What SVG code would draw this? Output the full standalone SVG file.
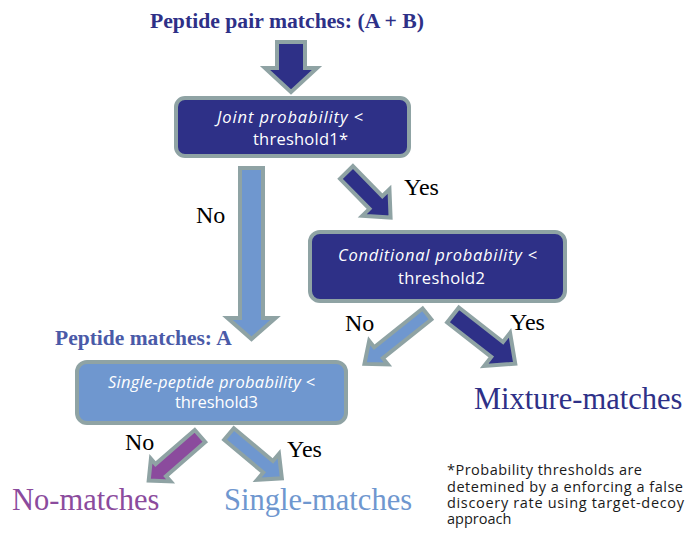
<svg xmlns="http://www.w3.org/2000/svg" width="687" height="533" viewBox="0 0 687 533">
  <style>
    .box { stroke: #8fa3a4; stroke-width: 4; }
    .dark { fill: #2e3087; }
    .light { fill: #6f97cf; }
    .purple { fill: #8b4b9d; }
    .arrow { stroke: #8fa3a4; stroke-width: 4; stroke-linejoin: miter; stroke-miterlimit: 10; }
    .boxtxt { font-family: "Open Sans", "DejaVu Sans", sans-serif; fill: #ffffff; font-size: 16.5px; }
    .it { font-style: italic; }
    .head { font-family: "Liberation Serif", "Times New Roman", serif; font-weight: bold; }
    .lbl { font-family: "Liberation Serif", "Times New Roman", serif; font-size: 24px; fill: #000000; }
    .out { font-family: "Liberation Serif", "Times New Roman", serif; font-size: 30.5px; }
    .note { font-family: "Open Sans", "DejaVu Sans", sans-serif; font-size: 14.5px; fill: #1a1a1a; }
  </style>

  <rect width="687" height="533" fill="#ffffff"/>

  <!-- headings -->
  <text class="head" x="150" y="28" font-size="21.7" fill="#2e3087">Peptide pair matches: (A + B)</text>
  <text class="head" x="55" y="345" font-size="21.5" fill="#4a5aa8">Peptide matches: A</text>

  <!-- connectors: block arrows drawn along +x, then placed and rotated -->
  <g id="connectors">
    <path class="arrow dark" transform="translate(291,42) rotate(90)" d="M0,-14 L26,-14 L26,-26 L50,0 L26,26 L26,14 L0,14 Z"/>
    <path class="arrow light" transform="translate(251.5,168) rotate(90)" d="M0,-11.5 L150,-11.5 L150,-24 L171,0 L150,24 L150,11.5 L0,11.5 Z"/>
    <path class="arrow dark" transform="translate(346.5,172.5) rotate(45.6)" d="M0,-9 L42,-9 L42,-19 L63,0 L42,19 L42,9 L0,9 Z"/>
    <path class="arrow light" transform="translate(427,314) rotate(141.4)" d="M0,-7 L62,-7 L62,-15 L80,0 L62,15 L62,7 L0,7 Z"/>
    <path class="arrow dark" transform="translate(453,315) rotate(38)" d="M0,-9.5 L56,-9.5 L56,-21 L79,0 L56,21 L56,9.5 L0,9.5 Z"/>
    <path class="arrow purple" transform="translate(200,436) rotate(139)" d="M0,-8 L52,-8 L52,-15 L68,0 L52,15 L52,8 L0,8 Z"/>
    <path class="arrow light" transform="translate(229,434) rotate(40)" d="M0,-7.5 L51,-7.5 L51,-17 L69,0 L51,17 L51,7.5 L0,7.5 Z"/>
  </g>

  <!-- decision nodes -->
  <g id="joint">
    <rect class="box dark" x="176" y="98" width="233" height="58" rx="9"/>
    <text class="boxtxt it" x="217" y="123" textLength="146" lengthAdjust="spacing">Joint probability &lt;</text>
    <text class="boxtxt" x="253" y="145" textLength="95" lengthAdjust="spacing">threshold1*</text>
  </g>

  <g id="conditional">
    <rect class="box dark" x="310" y="232" width="255" height="69" rx="10"/>
    <text class="boxtxt it" x="338" y="261" textLength="199" lengthAdjust="spacing">Conditional probability &lt;</text>
    <text class="boxtxt" x="398" y="284" textLength="87" lengthAdjust="spacing">threshold2</text>
  </g>

  <g id="single">
    <rect class="box light" x="77" y="362" width="269" height="61" rx="10"/>
    <text class="boxtxt it" x="108" y="388" font-size="15" textLength="207" lengthAdjust="spacing">Single-peptide probability &lt;</text>
    <text class="boxtxt" x="175" y="408" font-size="15.5" textLength="83" lengthAdjust="spacing">threshold3</text>
  </g>

  <!-- branch labels -->
  <text class="lbl" x="196" y="223">No</text>
  <text class="lbl" x="404" y="195">Yes</text>
  <text class="lbl" x="345" y="331">No</text>
  <text class="lbl" x="510" y="330">Yes</text>
  <text class="lbl" x="125" y="450">No</text>
  <text class="lbl" x="287" y="457">Yes</text>

  <!-- outcomes -->
  <g id="mixture"><text class="out" x="474" y="409" fill="#2e3087">Mixture-matches</text></g>
  <g id="nomatch"><text class="out" x="12" y="510" fill="#8b4b9d">No-matches</text></g>
  <g id="singlematch"><text class="out" x="224" y="510" fill="#6f97cf">Single-matches</text></g>

  <!-- footnote -->
  <text class="note">
    <tspan x="447" y="475" textLength="195" lengthAdjust="spacing">*Probability thresholds are</tspan>
    <tspan x="447" y="491.5" textLength="236" lengthAdjust="spacing">detemined by a enforcing a false</tspan>
    <tspan x="447" y="508" textLength="237" lengthAdjust="spacing">discoery rate using target-decoy</tspan>
    <tspan x="447" y="524">approach</tspan>
  </text>
</svg>
